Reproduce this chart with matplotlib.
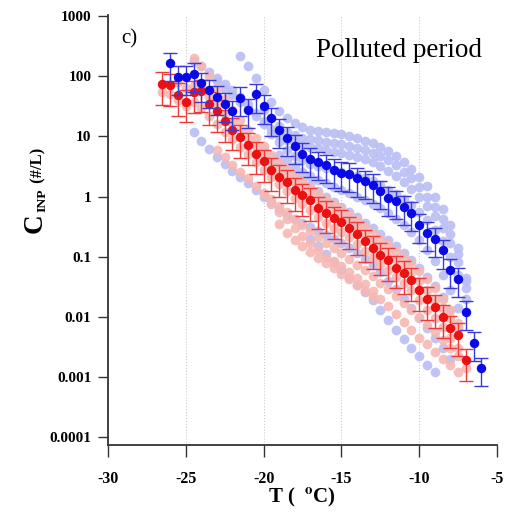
import numpy as np
import matplotlib.pyplot as plt
from matplotlib.ticker import FixedLocator, FixedFormatter, NullLocator

plt.rcParams['font.family'] = ['Liberation Serif', 'DejaVu Serif']
plt.rcParams['mathtext.fontset'] = 'stix'

# mean spectra (polluted period)
blue_T = [-26.0, -25.5, -25.0, -24.5, -24.0, -23.5, -23.0, -22.5, -22.0, -21.5,
          -21.0, -20.5, -20.0, -19.5, -19.0, -18.5, -18.0, -17.5, -17.0, -16.5,
          -16.0, -15.5, -15.0, -14.5, -14.0, -13.5, -13.0, -12.5, -12.0, -11.5,
          -11.0, -10.5, -10.0, -9.5, -9.0, -8.5, -8.0, -7.5, -7.0, -6.5, -6.0]
blue_C = [165, 98, 98, 111, 76, 59, 46, 35, 26, 44,
          28, 50, 32, 20, 13, 9.4, 7.0, 5.1, 4.2, 3.7,
          3.3, 2.8, 2.5, 2.4, 2.0, 1.8, 1.56, 1.22, 0.95, 0.84,
          0.67, 0.54, 0.34, 0.25, 0.20, 0.127, 0.061, 0.043, 0.012, 0.0037, 0.0014]
blue_rel_err = 0.5

red_T = [-26.5, -26.0, -25.5, -25.0, -24.5, -24.0, -23.5, -23.0, -22.5, -22.0,
         -21.5, -21.0, -20.5, -20.0, -19.5, -19.0, -18.5, -18.0, -17.5, -17.0,
         -16.5, -16.0, -15.5, -15.0, -14.5, -14.0, -13.5, -13.0, -12.5, -12.0,
         -11.5, -11.0, -10.5, -10.0, -9.5, -9.0, -8.5, -8.0, -7.5, -7.0]
red_C = [75, 71, 49, 38, 54, 57, 35, 26, 18, 13,
         9.9, 7.3, 5.2, 3.85, 2.8, 2.15, 1.75, 1.29, 1.05, 0.88,
         0.64, 0.54, 0.44, 0.38, 0.30, 0.24, 0.18, 0.141, 0.108, 0.089,
         0.066, 0.054, 0.041, 0.028, 0.020, 0.0146, 0.010, 0.0066, 0.0050, 0.0019]
red_rel_err = 0.55

# individual spectra (light colours)
lb1_T = [-21.5, -21.0, -20.5, -20.0, -19.5, -19.0, -18.5, -18.0, -17.5, -17.0,
         -16.5, -16.0, -15.5, -15.0, -14.5, -14.0, -13.5, -13.0, -12.5, -12.0,
         -11.5, -11.0, -10.5, -10.0, -9.5, -9.0, -8.5, -8.0, -7.5, -7.0]
lb1_C = [220, 150, 95, 60, 38, 26, 20, 16.5, 14.5, 13,
         12.5, 12, 11.5, 11, 10, 9.5, 8.5, 7.8, 6.8, 5.8,
         4.8, 3.8, 2.9, 2.1, 1.5, 1.0, 0.62, 0.33, 0.14, 0.045]

lb2_T = [-24.5, -24.0, -23.5, -23.0, -22.5, -22.0, -21.5, -21.0, -20.5, -20.0,
         -19.5, -19.0, -18.5, -18.0, -17.5, -17.0, -16.5, -16.0, -15.5, -15.0,
         -14.5, -14.0, -13.5, -13.0, -12.5, -12.0, -11.5, -11.0, -10.5, -10.0,
         -9.5, -9.0, -8.5, -8.0, -7.5, -7.0]
lb2_C = [180, 150, 120, 95, 75, 60, 45, 34, 25, 18,
         13.5, 10.5, 8.8, 7.8, 7.2, 6.8, 6.4, 6.0, 5.6, 5.3,
         5.0, 4.6, 4.2, 3.7, 3.2, 2.7, 2.2, 1.75, 1.35, 1.0,
         0.7, 0.48, 0.3, 0.17, 0.08, 0.03]

lb3_T = [-23.0, -22.5, -22.0, -21.5, -21.0, -20.5, -20.0, -19.5, -19.0, -18.5,
         -18.0, -17.5, -17.0, -16.5, -16.0, -15.5, -15.0, -14.5, -14.0, -13.5,
         -13.0, -12.5, -12.0, -11.5, -11.0, -10.5, -10.0, -9.5, -9.0, -8.5,
         -8.0, -7.5, -7.0]
lb3_C = [85, 62, 48, 38, 30, 22, 16, 11, 8, 6,
         4.8, 4.0, 3.5, 3.2, 3.0, 2.8, 2.6, 2.4, 2.2, 2.0,
         1.8, 1.55, 1.3, 1.1, 0.9, 0.72, 0.55, 0.4, 0.28, 0.18,
         0.1, 0.05, 0.02]

lb4_T = [-20.0, -19.5, -19.0, -18.5, -18.0, -17.5, -17.0, -16.5, -16.0, -15.5,
         -15.0, -14.5, -14.0, -13.5, -13.0, -12.5, -12.0, -11.5, -11.0, -10.5,
         -10.0, -9.5, -9.0, -8.5, -8.0, -7.5]
lb4_C = [6, 4.6, 3.6, 2.9, 2.3, 1.9, 1.55, 1.25, 1.0, 0.82,
         0.68, 0.56, 0.46, 0.37, 0.3, 0.24, 0.19, 0.15, 0.115, 0.088,
         0.065, 0.046, 0.032, 0.021, 0.013, 0.007]

lb5_T = [-24.5, -24.0, -23.5, -23.0, -22.5, -22.0, -21.5, -21.0, -20.5, -20.0,
         -19.5, -19.0, -18.5, -18.0, -17.5, -17.0, -16.5, -16.0, -15.5, -15.0,
         -14.5, -14.0, -13.5, -13.0, -12.5, -12.0, -11.5, -11.0, -10.5, -10.0,
         -9.5, -9.0, -8.5, -8.0]
lb5_C = [12, 8.5, 6.2, 4.6, 3.5, 2.7, 2.1, 1.65, 1.3, 1.0,
         0.8, 0.62, 0.5, 0.42, 0.36, 0.31, 0.27, 0.23, 0.2, 0.17,
         0.14, 0.115, 0.092, 0.072, 0.055, 0.04, 0.029, 0.02, 0.014, 0.0095,
         0.0065, 0.0045, 0.003, 0.002]

lb6_T = [-17.0, -16.5, -16.0, -15.5, -15.0, -14.5, -14.0, -13.5, -13.0, -12.5,
         -12.0, -11.5, -11.0, -10.5, -10.0, -9.5, -9.0]
lb6_C = [0.2, 0.15, 0.11, 0.08, 0.06, 0.045, 0.034, 0.026, 0.019, 0.013,
         0.009, 0.006, 0.0042, 0.003, 0.0022, 0.0016, 0.0012]

lb7_T = [-20.0, -19.5, -19.0, -18.5, -18.0, -17.5, -17.0, -16.5, -16.0, -15.5,
         -15.0, -14.5, -14.0, -13.5, -13.0, -12.5, -12.0, -11.5, -11.0, -10.5,
         -10.0, -9.5, -9.0, -8.5, -8.0, -7.5, -7.0]
lb7_C = [28, 20, 15, 12, 10.5, 9.5, 9, 8.6, 8.2, 7.8,
         7.4, 7, 6.5, 6, 5.4, 4.7, 4, 3.3, 2.6, 2,
         1.45, 1.0, 0.68, 0.42, 0.24, 0.11, 0.04]

lb8_T = [-19.0, -18.5, -18.0, -17.5, -17.0, -16.5, -16.0, -15.5, -15.0, -14.5,
         -14.0, -13.5, -13.0, -12.5, -12.0, -11.5, -11.0, -10.5, -10.0, -9.5,
         -9.0, -8.5, -8.0, -7.5]
lb8_C = [5, 4, 3.2, 2.6, 2.2, 1.9, 1.65, 1.45, 1.3, 1.15,
         1.0, 0.88, 0.76, 0.64, 0.53, 0.43, 0.34, 0.26, 0.19, 0.13,
         0.085, 0.05, 0.028, 0.014]

pk1_T = [-24.5, -24.0, -23.5, -23.0, -22.5, -22.0, -21.5, -21.0, -20.5, -20.0,
         -19.5, -19.0, -18.5, -18.0, -17.5, -17.0, -16.5, -16.0, -15.5, -15.0,
         -14.5, -14.0, -13.5, -13.0, -12.5, -12.0, -11.5, -11.0, -10.5, -10.0,
         -9.5, -9.0, -8.5, -8.0, -7.5]
pk1_C = [200, 150, 100, 65, 42, 28, 19, 13, 9.5, 7,
         5, 3.8, 3.0, 2.3, 1.8, 1.45, 1.15, 0.92, 0.75, 0.62,
         0.5, 0.4, 0.31, 0.25, 0.2, 0.16, 0.125, 0.1, 0.078, 0.058,
         0.042, 0.03, 0.02, 0.013, 0.008]

pk2_T = red_T
pk2_C = [55, 50, 40, 32, 38, 30, 22, 16, 12, 9,
         6.8, 5.2, 3.8, 2.8, 2.1, 1.6, 1.25, 0.95, 0.75, 0.6,
         0.45, 0.37, 0.3, 0.26, 0.21, 0.165, 0.125, 0.097, 0.075, 0.061,
         0.046, 0.037, 0.028, 0.019, 0.013, 0.0095, 0.0068, 0.0045, 0.003, 0.0014]

pk3_T = [-20.0, -19.5, -19.0, -18.5, -18.0, -17.5, -17.0, -16.5, -16.0, -15.5,
         -15.0, -14.5, -14.0, -13.5, -13.0, -12.5, -12.0, -11.5, -11.0, -10.5,
         -10.0, -9.5, -9.0, -8.5, -8.0, -7.5]
pk3_C = [1.1, 0.75, 0.55, 0.42, 0.3, 0.22, 0.17, 0.13, 0.1, 0.085,
         0.07, 0.055, 0.044, 0.035, 0.027, 0.02, 0.015, 0.011, 0.0082, 0.006,
         0.0045, 0.0035, 0.0026, 0.002, 0.0016, 0.0012]

pk4_T = [-19.0, -18.5, -18.0, -17.5, -17.0, -16.5, -16.0, -15.5, -15.0, -14.5,
         -14.0, -13.5, -13.0]
pk4_C = [0.35, 0.25, 0.19, 0.15, 0.12, 0.095, 0.078, 0.064, 0.052, 0.042,
         0.034, 0.027, 0.021]

pk5_T = [-25.5, -25.0, -24.5, -24.0, -23.5, -23.0, -22.5, -22.0, -21.5, -21.0,
         -20.5, -20.0, -19.5, -19.0, -18.5, -18.0, -17.5, -17.0, -16.5, -16.0,
         -15.5, -15.0, -14.5, -14.0, -13.5, -13.0, -12.5, -12.0, -11.5, -11.0,
         -10.5, -10.0, -9.5, -9.0, -8.5, -8.0, -7.5]
pk5_C = [80, 65, 70, 60, 45, 34, 24, 17, 13, 9.5,
         7, 5.2, 3.8, 2.9, 2.3, 1.75, 1.4, 1.15, 0.88, 0.72,
         0.58, 0.5, 0.4, 0.32, 0.25, 0.19, 0.15, 0.12, 0.09, 0.072,
         0.055, 0.039, 0.028, 0.02, 0.014, 0.0095, 0.0065]

pk6_T = [-23.0, -22.5, -22.0, -21.5, -21.0, -20.5, -20.0, -19.5, -19.0, -18.5,
         -18.0, -17.5, -17.0, -16.5, -16.0, -15.5, -15.0, -14.5, -14.0, -13.5,
         -13.0, -12.5, -12.0, -11.5, -11.0, -10.5, -10.0, -9.5, -9.0, -8.5,
         -8.0, -7.5]
pk6_C = [6, 4.5, 3.4, 2.6, 2.0, 1.5, 1.15, 0.9, 0.7, 0.55,
         0.43, 0.34, 0.27, 0.21, 0.17, 0.14, 0.115, 0.092, 0.074, 0.059,
         0.047, 0.037, 0.029, 0.022, 0.017, 0.013, 0.0098, 0.0074, 0.0055, 0.0041,
         0.003, 0.0022]

x_ticks = [-30, -25, -20, -15, -10, -5]
y_ticks = [1e-4, 1e-3, 1e-2, 1e-1, 1, 10, 100, 1000]
y_tick_labels = ['0.0001', '0.001', '0.01', '0.1', '1', '10', '100', '1000']

LIGHT_BLUE = '#b9bef4'
LIGHT_RED = '#f6b8b3'
BLUE = '#0a0ae6'
RED = '#ec1010'


def main():
    fig = plt.figure(figsize=(5.15, 5.13), dpi=100)
    ax = fig.add_axes([108 / 515, 68 / 513, 389 / 515, 430 / 513])

    # light individual spectra
    light_blue = [(lb1_T, lb1_C), (lb7_T, lb7_C), (lb2_T, lb2_C), (lb3_T, lb3_C),
                  (lb8_T, lb8_C), (lb4_T, lb4_C), (lb5_T, lb5_C), (lb6_T, lb6_C)]
    light_red = [(pk1_T, pk1_C), (pk5_T, pk5_C), (pk2_T, pk2_C), (pk6_T, pk6_C),
                 (pk3_T, pk3_C), (pk4_T, pk4_C)]
    for T, C in light_blue:
        ax.plot(T, C, 'o', color=LIGHT_BLUE, ms=7, mec='none', alpha=0.9, zorder=2)
    for T, C in light_red:
        ax.plot(T, C, 'o', color=LIGHT_RED, ms=7, mec='none', alpha=0.9, zorder=2)

    # mean spectra with error bars
    red = np.array(red_C)
    ax.errorbar(red_T, red, yerr=red * red_rel_err, fmt='o', color=RED,
                ecolor='#ee3a3a', ms=6.8, mec='none', elinewidth=1.0,
                capsize=5, capthick=1.0, zorder=3)
    blue = np.array(blue_C)
    ax.errorbar(blue_T, blue, yerr=blue * blue_rel_err, fmt='o', color=BLUE,
                ecolor='#3a3ad8', ms=6.8, mec='none', elinewidth=1.0,
                capsize=5, capthick=1.0, zorder=4)

    ax.set_yscale('log')
    ax.set_xlim(-30, -5)
    ax.set_ylim(10 ** -4.133, 10 ** 3.02)

    ax.yaxis.set_major_locator(FixedLocator(y_ticks))
    ax.yaxis.set_major_formatter(FixedFormatter(y_tick_labels))
    ax.yaxis.set_minor_locator(NullLocator())
    ax.set_xticks(x_ticks)
    ax.set_xticklabels([str(t) for t in x_ticks])

    for s in ['top', 'right']:
        ax.spines[s].set_visible(False)
    for s in ['left', 'bottom']:
        ax.spines[s].set_linewidth(1.3)
        ax.spines[s].set_color('#333333')

    ax.tick_params(axis='y', direction='out', length=7, width=1, pad=5,
                   labelsize=11, color='#333333')
    ax.tick_params(axis='x', direction='out', length=8.5, width=1, pad=10,
                   labelsize=11.5, color='#333333')
    for lab in ax.get_xticklabels() + ax.get_yticklabels():
        lab.set_fontweight('bold')

    ax.grid(axis='x', color='#cccccc', linestyle=':', linewidth=0.8)
    ax.set_axisbelow(True)

    # labels
    fig.text(302 / 515, 1 - 497 / 513, r'T ( $\ ^{\mathbf{o}}$C)', fontsize=15,
             fontweight='bold', ha='center', va='center')
    fig.text(42 / 515, 1 - 233 / 513, 'C', fontsize=19.5, fontweight='bold',
             rotation=90, rotation_mode='anchor', ha='left', va='baseline')
    fig.text(45 / 515, 1 - 212 / 513, 'INP', fontsize=9.7, fontweight='bold',
             rotation=90, rotation_mode='anchor', ha='left', va='baseline')
    fig.text(42 / 515, 1 - 187 / 513, ' (#/L)', fontsize=12, fontweight='bold',
             rotation=90, rotation_mode='anchor', ha='left', va='baseline')

    fig.text(121 / 515, 1 - 43 / 513, 'c)', fontsize=15, va='baseline')
    fig.text(316 / 515, 1 - 57 / 513, 'Polluted period', fontsize=19.5,
             va='baseline')

    fig.savefig('out.png', dpi=100)


if __name__ == '__main__':
    main()
